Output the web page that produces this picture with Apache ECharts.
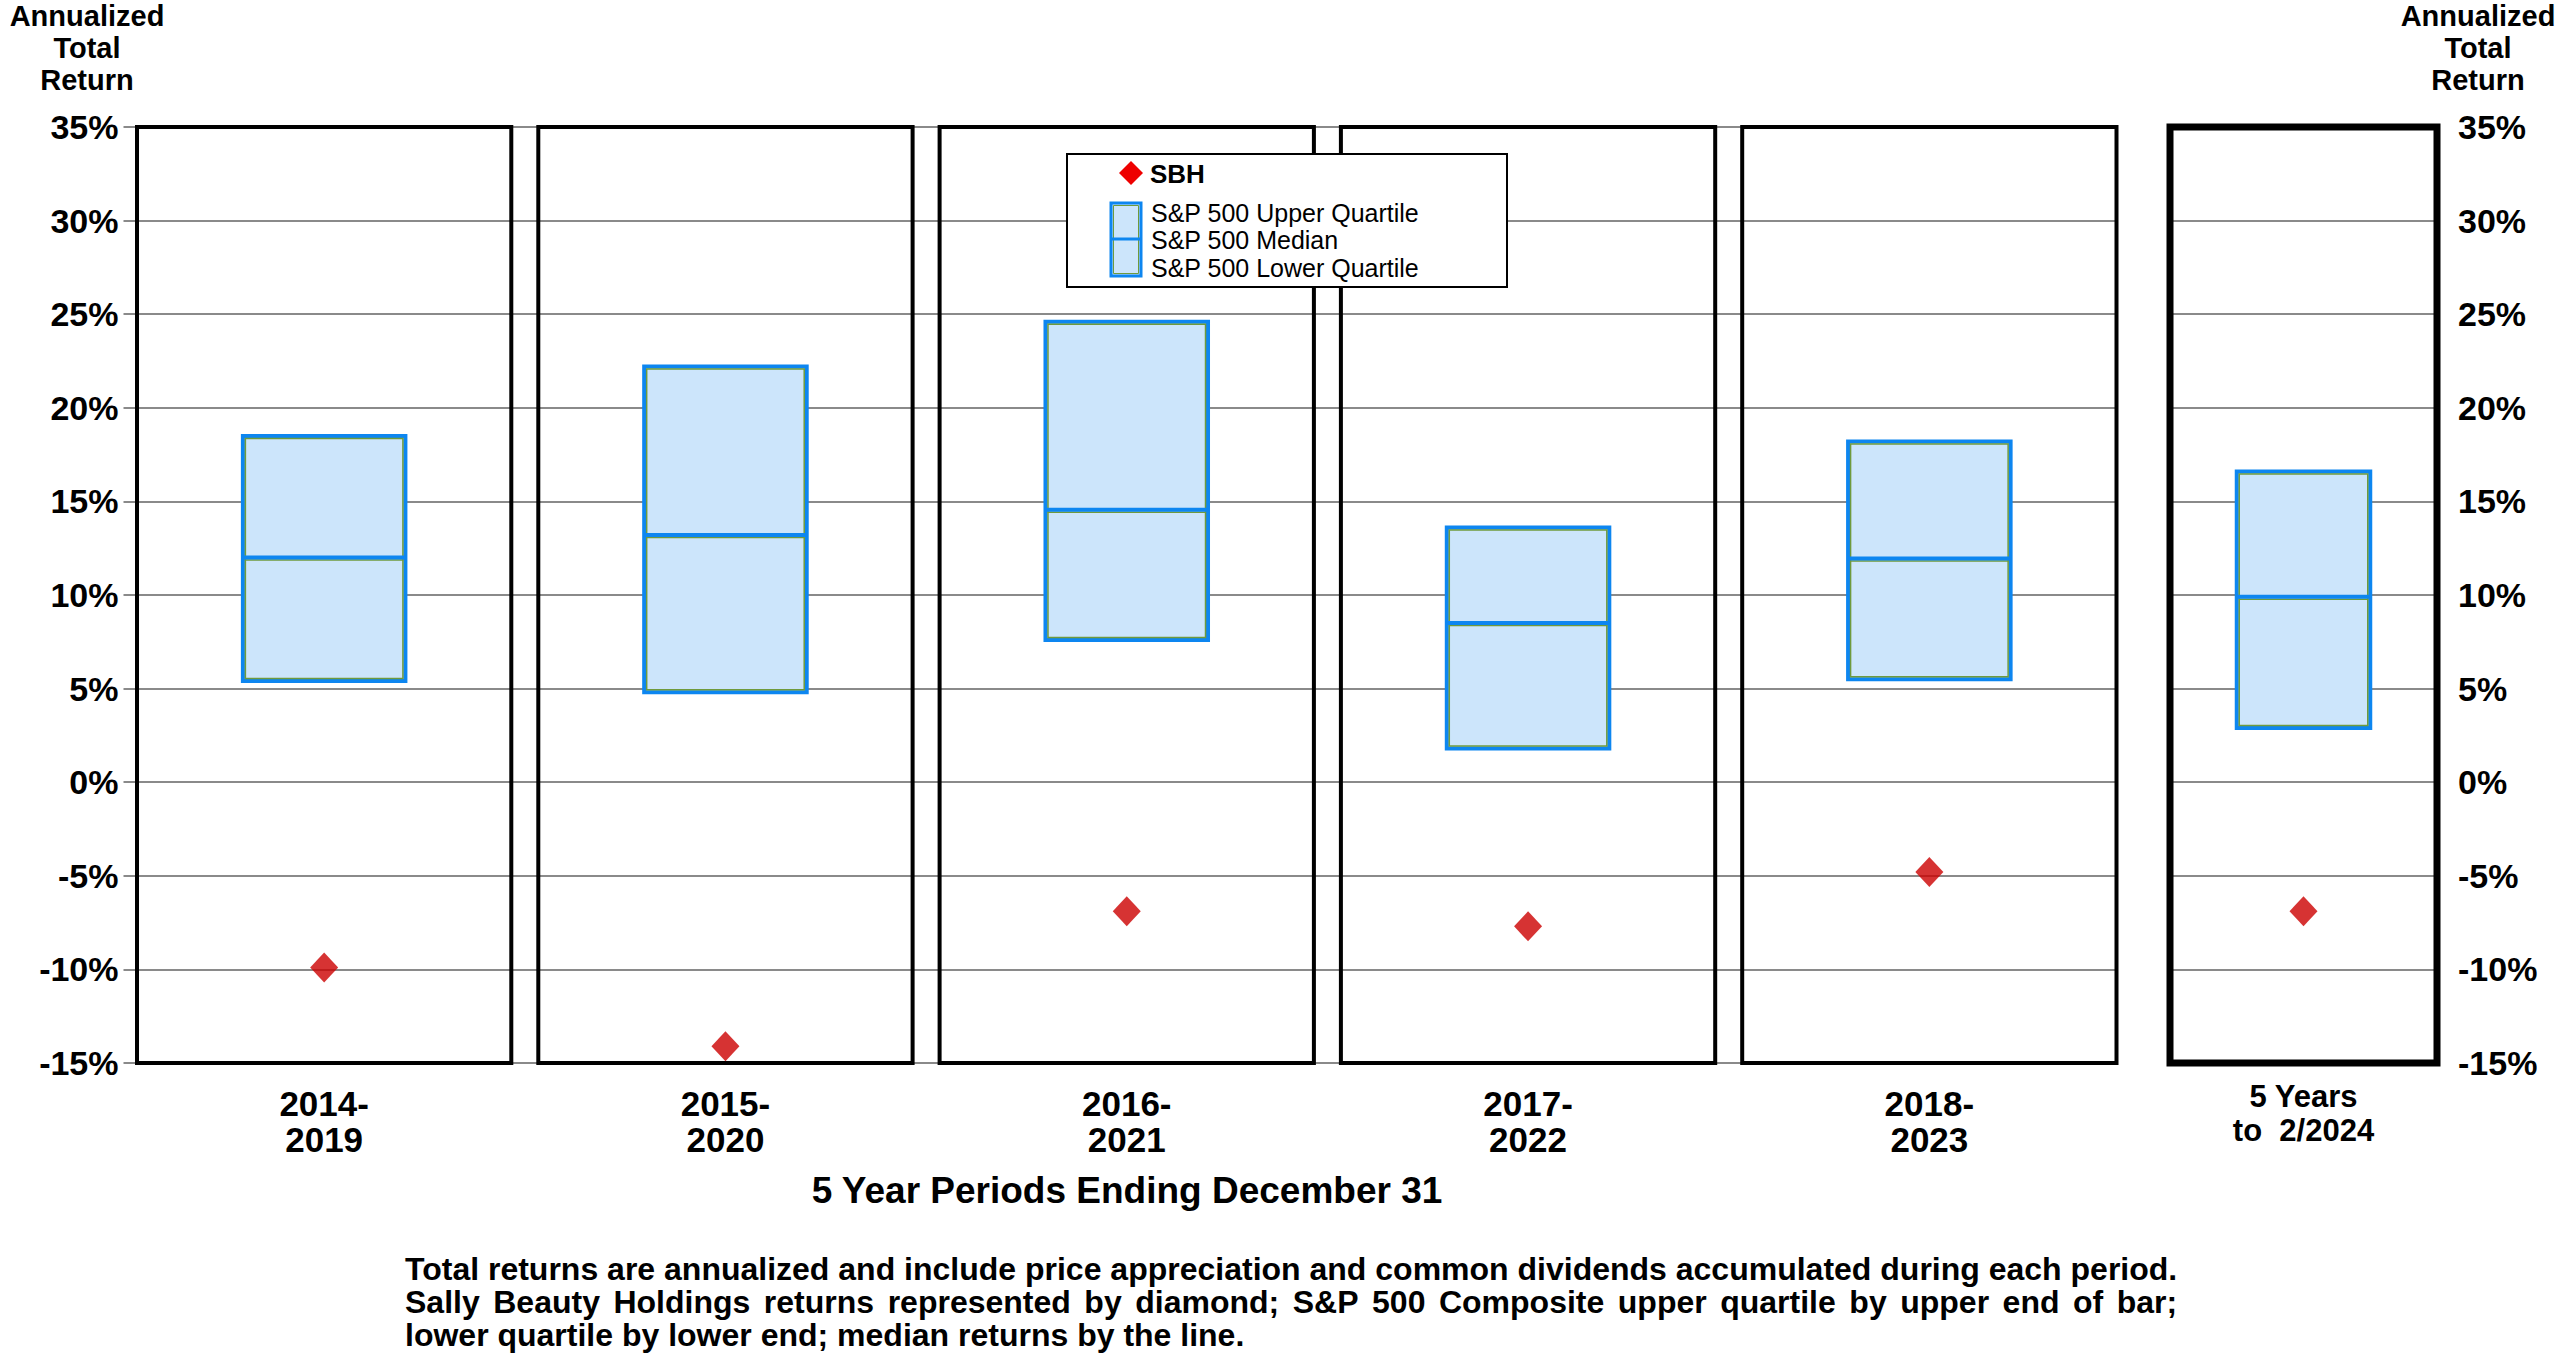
<!DOCTYPE html>
<html><head><meta charset="utf-8">
<script src="https://cdn.jsdelivr.net/npm/echarts@6/dist/echarts.min.js"></script>
<style>html,body{margin:0;padding:0;background:#fff}#c{width:2560px;height:1367px}</style>
</head><body><div id="c"></div>
<script>
// ---------- data ----------
var periods = ['2014-\n2019', '2015-\n2020', '2016-\n2021', '2017-\n2022', '2018-\n2023'];
var spLower  = [5.4, 4.8, 7.6, 1.8, 5.5];
var spMedian = [12.0, 13.2, 14.55, 8.5, 11.95];
var spUpper  = [18.5, 22.2, 24.6, 13.6, 18.2];
var sbhReturn = [-9.9, -14.1, -6.9, -7.7, -4.8];

var recentPeriod = ['5 Years\nto  2/2024'];
var recentLower  = [2.9];
var recentMedian = [9.9];
var recentUpper  = [16.6];
var recentSbh    = [-6.9];

var yMin = -15, yMax = 35, yStep = 5;
var axisTitle = 'Annualized\nTotal\nReturn';
var xTitle = '5 Year Periods Ending December 31';
var footLines = [
  'Total returns are annualized and include price appreciation and common dividends accumulated during each period.',
  'Sally Beauty Holdings returns represented by diamond; S&P 500 Composite upper quartile by upper end of bar;',
  'lower quartile by lower end; median returns by the line.'
];
var legendItems = ['SBH', 'S&P 500 Upper Quartile', 'S&P 500 Median', 'S&P 500 Lower Quartile'];

// ---------- styling ----------
var FF = '"Liberation Sans", Arial, Helvetica, sans-serif';
var BLUE = '#0d86f0', GREEN = '#6f9a3c', FILL = '#cce5fb', RED = '#cc0000', GRID = '#8a8a8a';

function boxData(lo, med, hi) { return lo.map(function (v, i) { return [i, lo[i], med[i], hi[i]]; }); }

function boxRenderer(frac) {
  return function (params, api) {
    var i = api.value(0);
    var pLo = api.coord([i, api.value(1)]);
    var pMed = api.coord([i, api.value(2)]);
    var pHi = api.coord([i, api.value(3)]);
    var w = api.size([1, 0])[0] * frac;
    var x = pLo[0] - w / 2;
    return {
      type: 'group',
      children: [
        { type: 'rect', shape: { x: x, y: pHi[1], width: w, height: pLo[1] - pHi[1] },
          style: { fill: FILL, stroke: BLUE, lineWidth: 4 } },
        { type: 'rect', shape: { x: x + 2.5, y: pHi[1] + 2.5, width: w - 5, height: pLo[1] - pHi[1] - 5 },
          style: { fill: 'none', stroke: GREEN, lineWidth: 1.5 } },
        { type: 'line', shape: { x1: x + 2, y1: pMed[1] + 2.5, x2: x + w - 2, y2: pMed[1] + 2.5 },
          style: { stroke: GREEN, lineWidth: 1.5 } },
        { type: 'line', shape: { x1: x, y1: pMed[1], x2: x + w, y2: pMed[1] },
          style: { stroke: BLUE, lineWidth: 4 } }
      ]
    };
  };
}

function frameRenderer(inset, lw) {
  return function (params, api) {
    var i = api.value(0);
    var top = api.coord([i, yMax]);
    var bot = api.coord([i, yMin]);
    var w = api.size([1, 0])[0] - inset;
    return { type: 'rect', shape: { x: top[0] - w / 2, y: top[1], width: w, height: bot[1] - top[1] },
      style: { fill: 'none', stroke: '#000', lineWidth: lw } };
  };
}

var chart = echarts.init(document.getElementById('c'), null, { renderer: 'svg' });

var yLabel = { fontFamily: FF, fontWeight: 'bold', fontSize: 34, color: '#000', formatter: '{value}%' };

// justify helper for footnote
function measure(t, font) {
  var ctx = document.createElement('canvas').getContext('2d');
  ctx.font = font; return ctx.measureText(t).width;
}
var footFont = 'bold 32px ' + FF;
var footX = 405, footY0 = 1269, footDY = 33;
var fullW = measure(footLines[0], footFont);
var footGraphics = [];
footGraphics.push({ type: 'text', z: 10, x: footX, y: footY0, style: { text: footLines[0], font: footFont, verticalAlign: 'middle', fill: '#000' } });
(function () {
  var words = footLines[1].split(' ');
  var tot = 0; words.forEach(function (w) { tot += measure(w, footFont); });
  var gap = (fullW - tot) / (words.length - 1);
  var x = footX;
  words.forEach(function (w) {
    footGraphics.push({ type: 'text', z: 10, x: x, y: footY0 + footDY, style: { text: w, font: footFont, verticalAlign: 'middle', fill: '#000' } });
    x += measure(w, footFont) + gap;
  });
})();
footGraphics.push({ type: 'text', z: 10, x: footX, y: footY0 + 2 * footDY, style: { text: footLines[2], font: footFont, verticalAlign: 'middle', fill: '#000' } });

var titleFont = 'bold 29px ' + FF;
var legFont = '25px ' + FF;
var LZ = 100;

var option = {
  backgroundColor: '#fff',
  animation: false,
  grid: [
    { left: 123.5, right: 430, top: 127, bottom: 304 },
    { left: 2170, right: 123, top: 127, bottom: 304 }
  ],
  xAxis: [
    { type: 'category', gridIndex: 0, data: periods,
      axisLine: { show: false }, axisTick: { show: false }, splitLine: { show: false },
      axisLabel: { fontFamily: FF, fontWeight: 'bold', fontSize: 35, lineHeight: 36, color: '#000', margin: 22, align: 'center' } },
    { type: 'category', gridIndex: 1, data: recentPeriod,
      axisLine: { show: false }, axisTick: { show: false }, splitLine: { show: false },
      axisLabel: { fontFamily: FF, fontWeight: 'bold', fontSize: 31, lineHeight: 34, color: '#000', margin: 16, align: 'center' } }
  ],
  yAxis: [
    { type: 'value', gridIndex: 0, min: yMin, max: yMax, interval: yStep,
      axisLine: { show: false }, axisTick: { show: false },
      splitLine: { show: true, lineStyle: { color: GRID, width: 2 } },
      axisLabel: Object.assign({ margin: 5 }, yLabel) },
    { type: 'value', gridIndex: 1, position: 'right', min: yMin, max: yMax, interval: yStep,
      axisLine: { show: false }, axisTick: { show: false },
      splitLine: { show: true, lineStyle: { color: GRID, width: 2 } },
      axisLabel: Object.assign({ margin: 21 }, yLabel) }
  ],
  series: [
    { type: 'custom', name: 'frames', xAxisIndex: 0, yAxisIndex: 0, clip: false, z: 3,
      renderItem: frameRenderer(27, 4), encode: { x: 0, y: [1, 2] },
      data: periods.map(function (p, i) { return [i, yMax, yMin]; }), silent: true },
    { type: 'custom', name: 'frame2', xAxisIndex: 1, yAxisIndex: 1, clip: false, z: 3,
      renderItem: frameRenderer(0, 7), encode: { x: 0, y: [1, 2] },
      data: recentPeriod.map(function (p, i) { return [i, yMax, yMin]; }), silent: true },
    { type: 'custom', name: 'S&P 500', xAxisIndex: 0, yAxisIndex: 0, z: 4,
      renderItem: boxRenderer(0.405), encode: { x: 0, y: [1, 2, 3] },
      data: boxData(spLower, spMedian, spUpper) },
    { type: 'custom', name: 'S&P 500 recent', xAxisIndex: 1, yAxisIndex: 1, z: 4,
      renderItem: boxRenderer(0.5), encode: { x: 0, y: [1, 2, 3] },
      data: boxData(recentLower, recentMedian, recentUpper) },
    { type: 'scatter', name: 'SBH', xAxisIndex: 0, yAxisIndex: 0, z: 5,
      symbol: 'diamond', symbolSize: [28, 30], itemStyle: { color: RED },
      data: sbhReturn.map(function (v, i) { return [i, v]; }) },
    { type: 'scatter', name: 'SBH recent', xAxisIndex: 1, yAxisIndex: 1, z: 5,
      symbol: 'diamond', symbolSize: [28, 30], itemStyle: { color: RED },
      data: recentSbh.map(function (v, i) { return [i, v]; }) }
  ],
  graphic: [
    // hide the grid stub right of the last 5-year panel
    { type: 'rect', z: 1, shape: { x: 2118, y: 118, width: 40, height: 955 }, style: { fill: '#fff' }, silent: true },
    // axis titles
    { type: 'text', z: 10, x: 87, y: 0, style: { text: axisTitle, font: titleFont, lineHeight: 32, align: 'center', verticalAlign: 'top', fill: '#000' } },
    { type: 'text', z: 10, x: 2478, y: 0, style: { text: axisTitle, font: titleFont, lineHeight: 32, align: 'center', verticalAlign: 'top', fill: '#000' } },
    // x title
    { type: 'text', z: 10, x: 1127, y: 1190, style: { text: xTitle, font: 'bold 37px ' + FF, align: 'center', verticalAlign: 'middle', fill: '#000' } },
    // legend
    { type: 'rect', z: LZ, shape: { x: 1067, y: 154, width: 440, height: 133 }, style: { fill: '#fff', stroke: '#000', lineWidth: 2 } },
    { type: 'polygon', z: LZ + 1, shape: { points: [[1131, 161], [1143, 173], [1131, 185], [1119, 173]] }, style: { fill: '#ee0000' } },
    { type: 'text', z: LZ + 1, x: 1150, y: 174, style: { text: legendItems[0], font: 'bold 26px ' + FF, verticalAlign: 'middle', fill: '#000' } },
    { type: 'rect', z: LZ + 1, shape: { x: 1111, y: 203, width: 30, height: 73 }, style: { fill: FILL, stroke: BLUE, lineWidth: 3 } },
    { type: 'rect', z: LZ + 2, shape: { x: 1113.5, y: 205.5, width: 25, height: 68 }, style: { fill: 'none', stroke: GREEN, lineWidth: 1 } },
    { type: 'line', z: LZ + 3, shape: { x1: 1111, y1: 239, x2: 1141, y2: 239 }, style: { stroke: BLUE, lineWidth: 3 } },
    { type: 'text', z: LZ + 1, x: 1151, y: 213, style: { text: legendItems[1], font: legFont, verticalAlign: 'middle', fill: '#000' } },
    { type: 'text', z: LZ + 1, x: 1151, y: 240, style: { text: legendItems[2], font: legFont, verticalAlign: 'middle', fill: '#000' } },
    { type: 'text', z: LZ + 1, x: 1151, y: 268, style: { text: legendItems[3], font: legFont, verticalAlign: 'middle', fill: '#000' } }
  ].concat(footGraphics)
};
chart.setOption(option);
</script></body></html>
